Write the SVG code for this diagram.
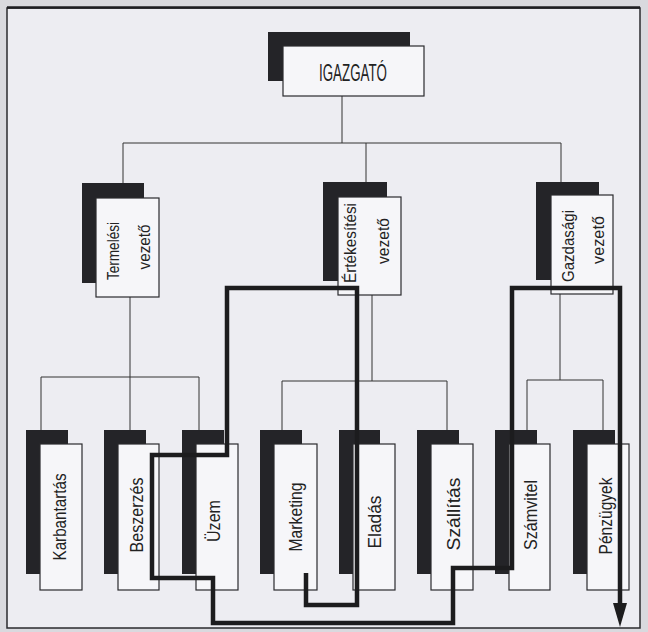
<svg xmlns="http://www.w3.org/2000/svg" width="648" height="632" viewBox="0 0 648 632">
<defs>
<style>
.sh{fill:#242428}
.bx{fill:#f6f6f9;stroke:#2a2a2e;stroke-width:1.2}
.ln{fill:none;stroke:#333;stroke-width:1}
.fl{fill:none;stroke:#1c1c1e;stroke-width:4.5;stroke-linejoin:miter}
.t{font-family:"Liberation Sans","DejaVu Sans",sans-serif;fill:#222;text-anchor:middle}
.m{font-size:17px}
.d{font-size:18px}
</style>
</defs>
<rect x="0" y="0" width="648" height="632" fill="#d9d9de"/>
<rect x="7" y="8" width="633" height="620" fill="#ededf2" stroke="#2a2a2e" stroke-width="1.5"/>
<line x1="7" y1="7.5" x2="640" y2="7.5" stroke="#1e1e22" stroke-width="2.5"/>

<g id="connectors">
<path class="ln" d="M342,96 V143 M123,143 H561 M123,143 V183 M366,143 V182 M561,143 V182"/>
<path class="ln" d="M130,297 V377 M41,377 H199 M41,377 V430 M130,377 V430 M199,377 V430"/>
<path class="ln" d="M372,295 V381 M282,381 H447 M282,381 V430 M357,381 V430 M447,381 V430"/>
<path class="ln" d="M560,294 V380 M527,380 H603 M527,380 V430 M603,380 V430"/>
</g>

<g id="igazgato">
<rect class="sh" x="268" y="32" width="142" height="49"/>
<rect class="bx" x="283" y="46" width="141" height="50"/>
<text class="t" x="353" y="81" font-size="23" textLength="68" lengthAdjust="spacingAndGlyphs">IGAZGATÓ</text>
</g>

<g id="termelesi">
<rect class="sh" x="82" y="183" width="62" height="100"/>
<rect class="bx" x="96" y="198" width="63" height="99"/>
<text class="t m" transform="translate(119,251) rotate(-90)" textLength="58" lengthAdjust="spacingAndGlyphs">Termelési</text>
<text class="t m" transform="translate(150,247) rotate(-90)" textLength="45" lengthAdjust="spacingAndGlyphs">vezető</text>
</g>

<g id="ertekesitesi">
<rect class="sh" x="323" y="182" width="64" height="99"/>
<rect class="bx" x="338" y="197" width="63" height="98"/>
<text class="t m" transform="translate(356,243) rotate(-90)" textLength="80" lengthAdjust="spacingAndGlyphs">Értékesítési</text>
<text class="t m" transform="translate(389,241) rotate(-90)" textLength="46" lengthAdjust="spacingAndGlyphs">vezető</text>
</g>

<g id="gazdasagi">
<rect class="sh" x="536" y="182" width="63" height="98"/>
<rect class="bx" x="551" y="195" width="62" height="99"/>
<text class="t m" transform="translate(574,246) rotate(-90)" textLength="72" lengthAdjust="spacingAndGlyphs">Gazdasági</text>
<text class="t m" transform="translate(604,240) rotate(-90)" textLength="48" lengthAdjust="spacingAndGlyphs">vezető</text>
</g>

<g id="karbantartas">
<rect class="sh" x="26" y="430" width="42" height="144"/>
<rect class="bx" x="40" y="444" width="42" height="146"/>
<text class="t d" transform="translate(66,517) rotate(-90)" textLength="87" lengthAdjust="spacingAndGlyphs">Karbantartás</text>
</g>
<g id="beszerzes">
<rect class="sh" x="104" y="430" width="42" height="144"/>
<rect class="bx" x="118" y="444" width="41" height="146"/>
<text class="t d" transform="translate(143,515) rotate(-90)" textLength="75" lengthAdjust="spacingAndGlyphs">Beszerzés</text>
</g>
<g id="uzem">
<rect class="sh" x="182" y="430" width="42" height="144"/>
<rect class="bx" x="196" y="444" width="42" height="146"/>
<text class="t d" transform="translate(220,521) rotate(-90)" textLength="42" lengthAdjust="spacingAndGlyphs">Üzem</text>
</g>
<g id="marketing">
<rect class="sh" x="260" y="430" width="42" height="144"/>
<rect class="bx" x="274" y="444" width="43" height="146"/>
<text class="t d" transform="translate(302,517) rotate(-90)" textLength="69" lengthAdjust="spacingAndGlyphs">Marketing</text>
</g>
<g id="eladas">
<rect class="sh" x="339" y="430" width="41" height="144"/>
<rect class="bx" x="353" y="444" width="42" height="146"/>
<text class="t d" transform="translate(381,522) rotate(-90)" textLength="53" lengthAdjust="spacingAndGlyphs">Eladás</text>
</g>
<g id="szallitas">
<rect class="sh" x="417" y="430" width="42" height="144"/>
<rect class="bx" x="431" y="444" width="42" height="146"/>
<text class="t d" transform="translate(460,514) rotate(-90)" textLength="73" lengthAdjust="spacingAndGlyphs">Szállítás</text>
</g>
<g id="szamvitel">
<rect class="sh" x="495" y="430" width="42" height="144"/>
<rect class="bx" x="509" y="444" width="41" height="146"/>
<text class="t d" transform="translate(537,515) rotate(-90)" textLength="70" lengthAdjust="spacingAndGlyphs">Számvitel</text>
</g>
<g id="penzugyek">
<rect class="sh" x="573" y="430" width="42" height="144"/>
<rect class="bx" x="587" y="444" width="42" height="146"/>
<text class="t d" transform="translate(612,516) rotate(-90)" textLength="77" lengthAdjust="spacingAndGlyphs">Pénzügyek</text>
</g>

<g id="flow">
<path class="fl" d="M306,573 V605 H357 V288 H227 V455 H152 V578 H213 V623 H453 V568 H512 V288 H620 V605"/>
<polygon points="613,603 627,603 620,627" fill="#1c1c1e"/>
</g>
</svg>
